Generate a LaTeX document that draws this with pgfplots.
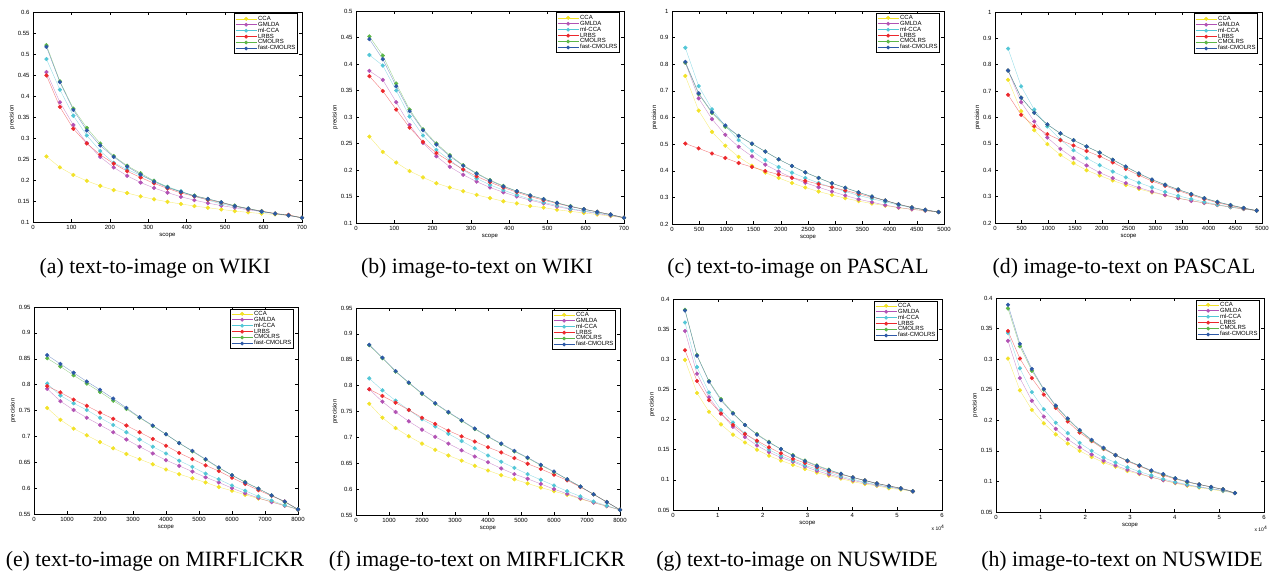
\documentclass[border=0pt]{standalone}
\usepackage{pgfplots}
\pgfplotsset{compat=1.18}
\usepackage{pgfplotstable}
\usepackage{fontspec}
\setmainfont{Liberation Serif}
\newfontfamily\arial{Liberation Sans}
\newcommand\tfont{\arial\fontsize{6}{7}\selectfont}
\newcommand\capfont{\fontsize{21.8}{26}\selectfont}

\definecolor{colCCA}{RGB}{242,226,40}
\definecolor{colGM}{RGB}{178,82,180}
\definecolor{colML}{RGB}{82,198,214}
\definecolor{colLR}{RGB}{236,40,44}
\definecolor{colCM}{RGB}{92,182,72}
\definecolor{colFC}{RGB}{44,88,166}

% text-to-image WIKI
\pgfplotstableread{
x   cca   gm    ml    lr    cm    fc
35  0.256 0.457 0.488 0.449 0.521 0.517
70  0.230 0.385 0.415 0.374 0.435 0.433
105 0.212 0.331 0.353 0.322 0.370 0.367
140 0.198 0.288 0.306 0.287 0.324 0.318
175 0.186 0.255 0.269 0.260 0.287 0.282
210 0.176 0.230 0.241 0.239 0.257 0.255
245 0.169 0.210 0.225 0.221 0.234 0.232
280 0.161 0.194 0.211 0.206 0.216 0.213
315 0.154 0.181 0.198 0.192 0.198 0.196
350 0.148 0.170 0.184 0.180 0.183 0.182
385 0.143 0.160 0.173 0.169 0.172 0.172
420 0.138 0.152 0.161 0.161 0.163 0.162
455 0.134 0.145 0.152 0.153 0.155 0.155
490 0.130 0.139 0.143 0.146 0.147 0.147
525 0.126 0.134 0.137 0.138 0.139 0.138
560 0.123 0.129 0.131 0.131 0.132 0.132
595 0.120 0.125 0.124 0.126 0.126 0.125
630 0.118 0.120 0.120 0.120 0.120 0.120
665 0.116 0.115 0.116 0.117 0.116 0.116
700 0.110 0.110 0.110 0.110 0.110 0.110
}\tA
% image-to-text WIKI
\pgfplotstableread{
x   cca   gm    ml    lr    cm    fc
35  0.263 0.387 0.417 0.377 0.452 0.447
70  0.234 0.370 0.397 0.349 0.416 0.409
105 0.214 0.328 0.350 0.314 0.363 0.358
140 0.198 0.285 0.301 0.280 0.314 0.311
175 0.186 0.251 0.265 0.253 0.277 0.275
210 0.175 0.226 0.238 0.232 0.250 0.248
245 0.167 0.206 0.219 0.216 0.228 0.226
280 0.160 0.191 0.200 0.201 0.209 0.208
315 0.153 0.178 0.184 0.188 0.194 0.193
350 0.147 0.167 0.172 0.177 0.181 0.180
385 0.141 0.158 0.162 0.167 0.170 0.169
420 0.137 0.150 0.153 0.158 0.160 0.160
455 0.132 0.143 0.145 0.150 0.152 0.152
490 0.129 0.137 0.139 0.143 0.145 0.145
525 0.125 0.131 0.133 0.137 0.138 0.138
560 0.122 0.126 0.127 0.131 0.132 0.131
595 0.119 0.122 0.123 0.126 0.126 0.126
630 0.116 0.118 0.119 0.121 0.121 0.121
665 0.113 0.114 0.115 0.116 0.116 0.116
700 0.110 0.110 0.110 0.110 0.110 0.110
}\tB
% text-to-image PASCAL
\pgfplotstableread{
x    cca   gm    ml    lr    cm    fc
245  0.756 0.806 0.862 0.502 0.806 0.809
490  0.626 0.672 0.718 0.484 0.688 0.691
735  0.546 0.594 0.631 0.465 0.617 0.620
980  0.494 0.535 0.568 0.448 0.565 0.570
1225 0.452 0.490 0.515 0.429 0.531 0.531
1470 0.419 0.454 0.475 0.414 0.501 0.502
1715 0.393 0.423 0.440 0.399 0.472 0.472
1960 0.373 0.397 0.414 0.386 0.443 0.443
2205 0.354 0.374 0.393 0.374 0.418 0.418
2450 0.337 0.355 0.373 0.362 0.394 0.394
2695 0.322 0.338 0.354 0.350 0.373 0.373
2940 0.309 0.322 0.338 0.338 0.353 0.353
3185 0.297 0.307 0.322 0.326 0.336 0.336
3430 0.286 0.293 0.307 0.313 0.319 0.319
3675 0.277 0.282 0.295 0.301 0.303 0.303
3920 0.269 0.271 0.283 0.288 0.288 0.288
4165 0.261 0.262 0.271 0.274 0.274 0.274
4410 0.255 0.255 0.261 0.262 0.262 0.262
4655 0.250 0.250 0.252 0.253 0.253 0.253
4900 0.245 0.245 0.245 0.245 0.245 0.245
}\tC
% image-to-text PASCAL
\pgfplotstableread{
x    cca   gm    ml    lr    cm    fc
245  0.743 0.778 0.861 0.686 0.778 0.778
490  0.624 0.658 0.718 0.610 0.675 0.675
735  0.552 0.585 0.630 0.567 0.618 0.618
980  0.499 0.524 0.566 0.537 0.573 0.574
1225 0.458 0.481 0.516 0.514 0.539 0.540
1470 0.427 0.446 0.476 0.494 0.514 0.514
1715 0.400 0.418 0.446 0.473 0.490 0.490
1960 0.380 0.391 0.419 0.453 0.467 0.467
2205 0.361 0.370 0.395 0.430 0.440 0.440
2450 0.344 0.351 0.373 0.405 0.413 0.414
2695 0.329 0.334 0.353 0.381 0.387 0.388
2940 0.316 0.319 0.335 0.359 0.364 0.365
3185 0.305 0.306 0.318 0.341 0.345 0.345
3430 0.294 0.294 0.303 0.323 0.327 0.327
3675 0.285 0.284 0.291 0.306 0.310 0.310
3920 0.276 0.276 0.280 0.291 0.294 0.294
4165 0.268 0.268 0.270 0.277 0.280 0.280
4410 0.260 0.260 0.261 0.266 0.268 0.268
4655 0.253 0.253 0.254 0.256 0.257 0.257
4900 0.247 0.247 0.247 0.247 0.247 0.247
}\tD
% text-to-image MIRFLICKR
\pgfplotstableread{
x    cca   gm    ml    lr    cm    fc
400  0.755 0.792 0.802 0.797 0.851 0.857
800  0.732 0.768 0.779 0.785 0.835 0.840
1200 0.715 0.751 0.764 0.771 0.818 0.823
1600 0.702 0.736 0.751 0.759 0.802 0.806
2000 0.689 0.722 0.736 0.746 0.786 0.790
2400 0.677 0.708 0.722 0.734 0.769 0.773
2800 0.666 0.694 0.708 0.721 0.753 0.755
3200 0.656 0.680 0.694 0.708 0.736 0.737
3600 0.646 0.667 0.680 0.695 0.720 0.721
4000 0.636 0.654 0.667 0.682 0.704 0.704
4400 0.627 0.643 0.653 0.668 0.687 0.687
4800 0.619 0.632 0.641 0.656 0.671 0.672
5200 0.611 0.621 0.628 0.644 0.655 0.656
5600 0.602 0.611 0.617 0.633 0.639 0.640
6000 0.595 0.600 0.605 0.620 0.625 0.625
6400 0.587 0.590 0.595 0.608 0.612 0.611
6800 0.580 0.581 0.584 0.596 0.599 0.599
7200 0.574 0.573 0.576 0.585 0.586 0.586
7600 0.566 0.566 0.567 0.574 0.573 0.574
8000 0.559 0.559 0.559 0.559 0.559 0.559
}\tE
% image-to-text MIRFLICKR
\pgfplotstableread{
x    cca   gm    ml    lr    cm    fc
400  0.765 0.793 0.814 0.793 0.878 0.879
800  0.738 0.769 0.791 0.780 0.853 0.854
1200 0.718 0.749 0.771 0.767 0.827 0.828
1600 0.702 0.731 0.753 0.753 0.805 0.806
2000 0.688 0.715 0.735 0.738 0.784 0.785
2400 0.676 0.701 0.721 0.726 0.765 0.766
2800 0.665 0.688 0.707 0.713 0.748 0.749
3200 0.655 0.675 0.693 0.702 0.732 0.733
3600 0.645 0.663 0.679 0.692 0.716 0.717
4000 0.636 0.652 0.665 0.681 0.701 0.702
4400 0.627 0.640 0.653 0.671 0.687 0.688
4800 0.619 0.629 0.641 0.660 0.673 0.674
5200 0.611 0.620 0.629 0.649 0.660 0.661
5600 0.603 0.610 0.618 0.639 0.646 0.647
6000 0.596 0.600 0.607 0.628 0.633 0.634
6400 0.589 0.591 0.596 0.617 0.619 0.619
6800 0.581 0.582 0.586 0.604 0.605 0.605
7200 0.574 0.574 0.576 0.590 0.590 0.590
7600 0.567 0.567 0.568 0.575 0.575 0.575
8000 0.560 0.560 0.560 0.560 0.560 0.560
}\tF
% text-to-image NUSWIDE
\pgfplotstableread{
x     cca   gm    ml    lr    cm    fc
2675  0.299 0.347 0.361 0.315 0.382 0.381
5350  0.244 0.276 0.287 0.264 0.307 0.306
8025  0.213 0.237 0.245 0.232 0.264 0.263
10700 0.192 0.210 0.216 0.210 0.234 0.232
13375 0.175 0.188 0.195 0.191 0.211 0.210
16050 0.162 0.171 0.177 0.176 0.191 0.191
18725 0.150 0.157 0.163 0.165 0.176 0.175
21400 0.140 0.146 0.150 0.154 0.163 0.162
24075 0.132 0.137 0.140 0.144 0.151 0.151
26750 0.125 0.130 0.132 0.135 0.141 0.140
29425 0.118 0.122 0.124 0.128 0.132 0.131
32100 0.112 0.115 0.118 0.121 0.124 0.123
34775 0.107 0.109 0.112 0.114 0.117 0.116
37450 0.102 0.104 0.106 0.109 0.110 0.110
40125 0.097 0.099 0.101 0.104 0.104 0.104
42800 0.093 0.095 0.096 0.099 0.099 0.099
45475 0.090 0.091 0.092 0.094 0.094 0.094
48150 0.086 0.088 0.088 0.090 0.090 0.090
50825 0.084 0.085 0.085 0.086 0.086 0.086
53500 0.081 0.081 0.081 0.081 0.081 0.081
}\tG
% image-to-text NUSWIDE
\pgfplotstableread{
x     cca   gm    ml    lr    cm    fc
2675  0.301 0.330 0.343 0.346 0.383 0.389
5350  0.249 0.269 0.285 0.301 0.321 0.325
8025  0.217 0.232 0.246 0.269 0.281 0.284
10700 0.195 0.206 0.218 0.242 0.250 0.251
13375 0.177 0.186 0.196 0.220 0.223 0.224
16050 0.162 0.169 0.179 0.198 0.202 0.203
18725 0.150 0.156 0.163 0.180 0.183 0.184
21400 0.140 0.144 0.150 0.166 0.167 0.168
24075 0.131 0.134 0.139 0.153 0.154 0.155
26750 0.124 0.126 0.131 0.143 0.143 0.143
29425 0.117 0.119 0.123 0.133 0.134 0.134
32100 0.112 0.113 0.116 0.125 0.126 0.126
34775 0.107 0.107 0.110 0.117 0.117 0.118
37450 0.102 0.102 0.104 0.110 0.111 0.112
40125 0.097 0.098 0.099 0.104 0.105 0.105
42800 0.093 0.094 0.095 0.099 0.099 0.100
45475 0.090 0.091 0.091 0.095 0.095 0.095
48150 0.087 0.088 0.088 0.091 0.091 0.091
50825 0.084 0.085 0.085 0.087 0.087 0.087
53500 0.081 0.081 0.081 0.081 0.081 0.081
}\tH

\pgfplotsset{
  panel/.style={
    scale only axis, clip=false,
    axis line style={line width=0.6pt},
    tick align=inside, tick pos=both, major tick length=3pt,
    tick style={line width=0.5pt, black},
    ticklabel style={font=\tfont},
    /pgf/number format/assume math mode=true,
    /pgf/number format/1000 sep={},
    yticklabel style={/pgf/number format/fixed, /pgf/number format/precision=2},
    scaled x ticks=false, scaled y ticks=false,
    xlabel={scope}, ylabel={precision},
    label style={font=\tfont},
    xlabel style={yshift=3pt}, ylabel style={yshift=-4pt},
    every axis plot/.append style={line width=0.4pt, mark=*, mark size=1.9pt,
      draw opacity=0.6, mark options={draw opacity=1}},
    cycle list={{colCCA},{colGM},{colML},{colLR},{colCM},{colFC}},
    legend cell align=left,
    legend image code/.code={\draw[mark repeat=2,mark phase=2,##1,draw opacity=1,line width=0.6pt,mark size=1.6pt]
      plot coordinates {(0pt,0pt) (10.5pt,0pt) (21pt,0pt)};},
    legend style={at={(1,1)}, anchor=north east, xshift=-4pt, yshift=-1.5pt,
      draw=black, line width=0.6pt, font=\tfont, inner sep=1pt, row sep=-2.2pt,
      nodes={inner sep=1.2pt}},
  },
  nus/.style={xmin=0, xmax=60000, xtick={0,10000,20000,30000,40000,50000,60000},
    xticklabels={0,1,2,3,4,5,6},
    ymin=0.05, ymax=0.4, ytick={0.05,0.1,0.15,0.2,0.25,0.3,0.35,0.4}},
}

\newcommand\six[1]{%
  \addplot table[x=x,y=cca]{#1};
  \addplot table[x=x,y=gm]{#1};
  \addplot table[x=x,y=ml]{#1};
  \addplot table[x=x,y=lr]{#1};
  \addplot table[x=x,y=cm]{#1};
  \addplot table[x=x,y=fc]{#1};
  \legend{CCA,GMLDA,ml-CCA,LRBS,CMOLRS,fast-CMOLRS}}

\begin{document}
\begin{tikzpicture}
\useasboundingbox (0,0) rectangle (1269pt,574pt);

\begin{axis}[panel, anchor=south west, at={(33pt,352pt)}, width=269pt, height=210pt,
  xmin=0, xmax=700, xtick={0,100,200,300,400,500,600,700},
  ymin=0.1, ymax=0.6, ytick={0.1,0.15,0.2,0.25,0.3,0.35,0.4,0.45,0.5,0.55,0.6}]
\six{\tA}
\end{axis}

\begin{axis}[panel, anchor=south west, at={(356pt,351pt)}, width=268pt, height=212pt,
  xmin=0, xmax=700, xtick={0,100,200,300,400,500,600,700},
  ymin=0.1, ymax=0.5, ytick={0.1,0.15,0.2,0.25,0.3,0.35,0.4,0.45,0.5}]
\six{\tB}
\end{axis}

\begin{axis}[panel, anchor=south west, at={(672pt,350pt)}, width=272pt, height=213pt,
  xmin=0, xmax=5000, xtick={0,500,1000,1500,2000,2500,3000,3500,4000,4500,5000},
  ymin=0.2, ymax=1, ytick={0.2,0.3,0.4,0.5,0.6,0.7,0.8,0.9,1}]
\six{\tC}
\end{axis}

\begin{axis}[panel, anchor=south west, at={(995pt,351pt)}, width=267pt, height=211pt,
  xmin=0, xmax=5000, xtick={0,500,1000,1500,2000,2500,3000,3500,4000,4500,5000},
  ymin=0.2, ymax=1, ytick={0.2,0.3,0.4,0.5,0.6,0.7,0.8,0.9,1}]
\six{\tD}
\end{axis}

\begin{axis}[panel, anchor=south west, at={(34pt,60pt)}, width=264pt, height=207pt,
  xmin=0, xmax=8000, xtick={0,1000,2000,3000,4000,5000,6000,7000,8000},
  ymin=0.55, ymax=0.95, ytick={0.55,0.6,0.65,0.7,0.75,0.8,0.85,0.9,0.95}]
\six{\tE}
\end{axis}

\begin{axis}[panel, anchor=south west, at={(356pt,59pt)}, width=264pt, height=207pt,
  xmin=0, xmax=8000, xtick={0,1000,2000,3000,4000,5000,6000,7000,8000},
  ymin=0.55, ymax=0.95, ytick={0.55,0.6,0.65,0.7,0.75,0.8,0.85,0.9,0.95}]
\six{\tF}
\end{axis}

\begin{axis}[panel, nus, name=pg, anchor=south west, at={(673pt,64pt)}, width=269pt, height=211pt]
\six{\tG}
\end{axis}

\begin{axis}[panel, nus, name=ph, anchor=south west, at={(996pt,62pt)}, width=268pt, height=214pt]
\six{\tH}
\end{axis}

\node[font=\arial\fontsize{5}{6}\selectfont, anchor=north] at ([xshift=-4pt,yshift=-12pt]pg.south east) {x 10\textsuperscript{4}};
\node[font=\arial\fontsize{5}{6}\selectfont, anchor=north east, inner sep=0.5pt] at ([yshift=-13pt]1268pt,0|-ph.south) {x 10\textsuperscript{4}};

\node[font=\capfont, anchor=base] at (155pt,301pt) {(a) text-to-image on WIKI};
\node[font=\capfont, anchor=base] at (477pt,301pt) {(b) image-to-text on WIKI};
\node[font=\capfont, anchor=base] at (798pt,301pt) {(c) text-to-image on PASCAL};
\node[font=\capfont, anchor=base] at (1124pt,301pt) {(d) image-to-text on PASCAL};
\node[font=\capfont, anchor=base] at (155pt,8pt) {(e) text-to-image on MIRFLICKR};
\node[font=\capfont, anchor=base] at (477pt,8pt) {(f) image-to-text on MIRFLICKR};
\node[font=\capfont, anchor=base] at (797pt,8pt) {(g) text-to-image on NUSWIDE};
\node[font=\capfont, anchor=base] at (1122pt,8pt) {(h) image-to-text on NUSWIDE};
\end{tikzpicture}
\end{document}
